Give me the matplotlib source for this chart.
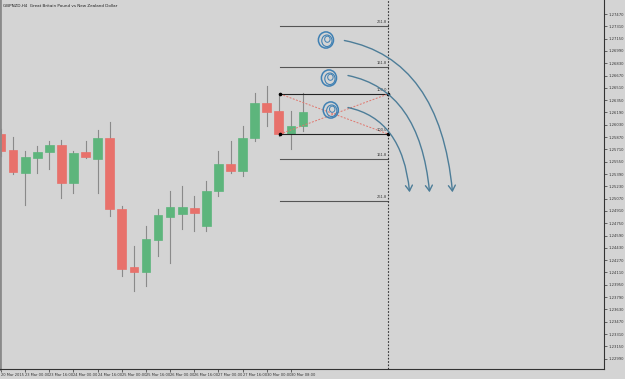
import matplotlib
matplotlib.use("Agg")
import matplotlib.pyplot as plt
from matplotlib.patches import Rectangle, FancyArrowPatch, Ellipse

# GBPNZD H4 candles (open, high, low, close)
opens = [1.25910, 1.25702, 1.25403, 1.25598, 1.25676, 1.25767, 1.25273, 1.25676,
         1.25585, 1.25858, 1.24935, 1.24181, 1.24116, 1.24532, 1.24831, 1.24870,
         1.24948, 1.24714, 1.25169, 1.25520, 1.25429, 1.25858, 1.26313, 1.26209,
         1.25910, 1.26014]
highs = [1.25975, 1.25871, 1.25689, 1.25754, 1.25819, 1.25832, 1.25689, 1.25819,
         1.25962, 1.26066, 1.24974, 1.24454, 1.24714, 1.24935, 1.25169, 1.25234,
         1.25104, 1.25299, 1.25689, 1.25819, 1.26014, 1.26443, 1.26534, 1.26404,
         1.26209, 1.26443]
lows = [1.25624, 1.25390, 1.24987, 1.25403, 1.25455, 1.25078, 1.25143, 1.25598,
        1.25143, 1.24844, 1.24064, 1.23869, 1.23934, 1.24324, 1.24233, 1.24675,
        1.24649, 1.24649, 1.25104, 1.25403, 1.25364, 1.25819, 1.26014, 1.25884,
        1.25715, 1.25949]
closes = [1.25689, 1.25416, 1.25611, 1.25676, 1.25767, 1.25273, 1.25663, 1.25611,
          1.25858, 1.24935, 1.24155, 1.24116, 1.24545, 1.24857, 1.24961, 1.24961,
          1.24883, 1.25169, 1.25520, 1.25429, 1.25858, 1.26313, 1.26196, 1.25910,
          1.26014, 1.26196]

time_labels = ["20 Mar 2015", "23 Mar 00:00", "23 Mar 16:00", "24 Mar 00:00",
               "24 Mar 16:00", "25 Mar 00:00", "25 Mar 16:00", "26 Mar 00:00",
               "26 Mar 16:00", "27 Mar 00:00", "27 Mar 16:00", "30 Mar 00:00",
               "30 Mar 08:00"]

price_ticks = [1.27470 - 0.0016 * k for k in range(29)]

# fibonacci expansion levels
fib_levels = [1.27314, 1.26781, 1.26430, 1.25910, 1.25585, 1.25039]
fib_names = ["261.8", "161.8", "100.0", "100.0", "161.8", "261.8"]

bg = "#d4d4d4"
up_col = "#5db57c"
dn_col = "#e8716b"
blue = "#3f80b3"
arrow_col = "#4d7d98"

fig = plt.figure(figsize=(6.25, 3.79), dpi=100, facecolor=bg)
ax = fig.add_axes([0, 10 / 379, 604 / 625, 369 / 379], facecolor=bg)

ax.set_xlim(-0.083, 49.92)
ax.set_ylim(1.22855, 1.27652)

# candles
for i in range(len(opens)):
    o, h, l, c = opens[i], highs[i], lows[i], closes[i]
    col = up_col if c >= o else dn_col
    ax.plot([i, i], [l, h], color="#8a8a8a", lw=0.8, zorder=1)
    ax.add_patch(Rectangle((i - 0.36, min(o, c)), 0.72, abs(c - o),
                           facecolor=col, edgecolor=col, lw=0.5, zorder=2))

# fib lines
x0, x1 = 23.1, 32.04
for lev, name in zip(fib_levels, fib_names):
    lc = "#222222" if name == "100.0" else "#555555"
    ax.plot([x0, x1], [lev, lev], color=lc, lw=0.8, zorder=3)
    ax.text(x1 - 0.1, lev + 0.0002, name, fontsize=2.6, color="#333333",
            ha="right", va="bottom", zorder=4)

# dotted red cross between the two 100 levels
ax.plot([x0, x1], [fib_levels[2], fib_levels[3]], color="#e0776e", lw=0.7,
        ls=(0, (2, 1.5)), zorder=3)
ax.plot([x0, x1], [fib_levels[3], fib_levels[2]], color="#e0776e", lw=0.7,
        ls=(0, (2, 1.5)), zorder=3)
ax.plot([x0, x1, x1, x0], [fib_levels[2], fib_levels[2], fib_levels[3], fib_levels[3]],
        "o", color="black", ms=1.6, zorder=4)

# vertical dotted line
ax.axvline(x1, color="#333333", lw=0.8, ls=(0, (1.5, 1.5)), zorder=3)

# blue scribbles
scribbles = [(26.9, 1.27132), (27.15, 1.26638), (27.3, 1.26222)]
for sx, sy in scribbles:
    ax.add_patch(Ellipse((sx, sy), 1.25, 0.0021, fill=False, ec=blue, lw=1.1, zorder=5))
    ax.add_patch(Ellipse((sx + 0.08, sy - 0.0001), 0.85, 0.0015, fill=False, ec=blue,
                         lw=0.8, zorder=5))
    ax.add_patch(Ellipse((sx + 0.12, sy + 0.0001), 0.45, 0.0008, fill=False, ec=blue,
                         lw=0.7, zorder=5))

# curved arrows
arrows = [((28.2, 1.27132), (37.4, 1.25117)),
          ((28.5, 1.26677), (35.5, 1.25117)),
          ((28.5, 1.26261), (33.85, 1.25117))]
for start, end in arrows:
    ax.add_patch(FancyArrowPatch(start, end, arrowstyle="->,head_length=4,head_width=2.5",
                                 connectionstyle="angle3,angleA=-10,angleB=95",
                                 color=arrow_col, lw=1.0, zorder=5))

# axes styling
ax.yaxis.tick_right()
ax.set_yticks(price_ticks)
ax.set_yticklabels(["%.5f" % p for p in price_ticks], fontsize=2.7, color="#222222")
ax.set_xticks(range(0, 2 * len(time_labels), 2))
ax.set_xticklabels(time_labels, fontsize=2.6, color="#222222", ha="left")
ax.tick_params(axis="both", length=2, width=0.5, pad=1, colors="#333333")
for side in ["top"]:
    ax.spines[side].set_visible(False)
ax.spines["left"].set_color("#8a8a8a")
ax.spines["left"].set_linewidth(2)
ax.spines["right"].set_color("#333333")
ax.spines["bottom"].set_color("#333333")
ax.spines["right"].set_linewidth(0.8)
ax.spines["bottom"].set_linewidth(0.8)

ax.text(0.005, 0.99, "GBPNZD,H4  Great Britain Pound vs New Zealand Dollar",
        transform=ax.transAxes, fontsize=3.0, color="#222222", va="top", ha="left")

fig.savefig("out.png", dpi=100, facecolor=bg)
